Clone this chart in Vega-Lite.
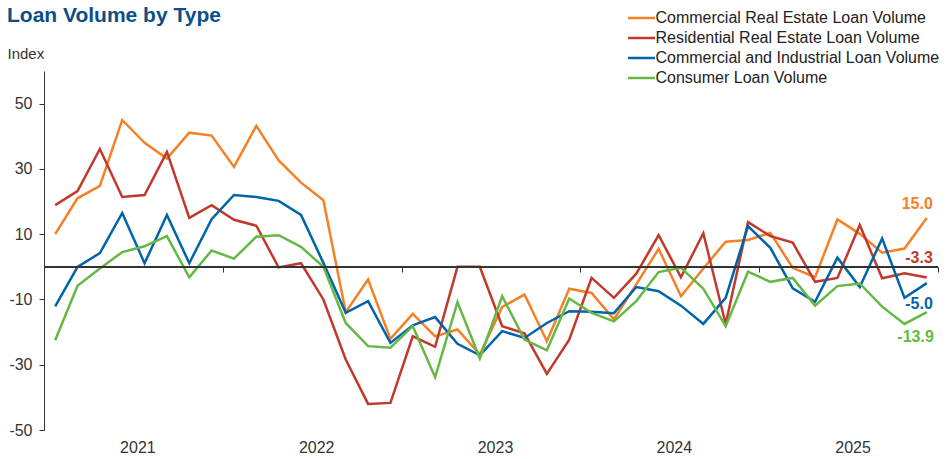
{
 "$schema": "https://vega.github.io/schema/vega-lite/v6.json",
 "width": 894,
 "height": 359,
 "autosize": {"type": "none"},
 "padding": {"left": 44, "top": 71, "right": 14, "bottom": 29},
 "background": "white",
 "title": {"text": "Loan Volume by Type", "anchor": "start", "frame": "group", "font": "Liberation Sans", "fontSize": 21, "fontWeight": "bold", "color": "#0b4f86", "dx": -37, "dy": 26, "offset": 10},
 "config": {"font": "Liberation Sans", "view": {"stroke": null}, "locale": {"number": {"decimal": ".", "thousands": ",", "grouping": [3], "currency": ["$", ""], "minus": "-"}}},
 "data": {"values": [
  {"t": 0, "CRE": 10.0, "RRE": 18.9, "CI": -12.1, "CON": -22.5},
  {"t": 1, "CRE": 21.0, "RRE": 23.2, "CI": 0.0, "CON": -5.8},
  {"t": 2, "CRE": 24.8, "RRE": 36.1, "CI": 4.2, "CON": -0.5},
  {"t": 3, "CRE": 45.0, "RRE": 21.4, "CI": 16.5, "CON": 4.5},
  {"t": 4, "CRE": 38.0, "RRE": 22.0, "CI": 1.1, "CON": 6.3},
  {"t": 5, "CRE": 33.2, "RRE": 35.2, "CI": 15.9, "CON": 9.4},
  {"t": 6, "CRE": 41.1, "RRE": 15.0, "CI": 1.1, "CON": -3.2},
  {"t": 7, "CRE": 40.2, "RRE": 18.9, "CI": 14.6, "CON": 5.0},
  {"t": 8, "CRE": 30.6, "RRE": 14.4, "CI": 22.0, "CON": 2.5},
  {"t": 9, "CRE": 43.2, "RRE": 12.6, "CI": 21.4, "CON": 9.2},
  {"t": 10, "CRE": 32.6, "RRE": -0.2, "CI": 20.2, "CON": 9.7},
  {"t": 11, "CRE": 25.8, "RRE": 1.1, "CI": 15.9, "CON": 6.1},
  {"t": 12, "CRE": 20.4, "RRE": -10.0, "CI": 1.2, "CON": 0.0},
  {"t": 13, "CRE": -13.9, "RRE": -28.4, "CI": -14.1, "CON": -17.2},
  {"t": 14, "CRE": -3.9, "RRE": -42.0, "CI": -10.5, "CON": -24.3},
  {"t": 15, "CRE": -22.1, "RRE": -41.7, "CI": -23.3, "CON": -24.8},
  {"t": 16, "CRE": -14.4, "RRE": -21.3, "CI": -17.9, "CON": -18.2},
  {"t": 17, "CRE": -21.3, "RRE": -24.5, "CI": -15.4, "CON": -33.8},
  {"t": 18, "CRE": -19.2, "RRE": 0.0, "CI": -23.6, "CON": -10.8},
  {"t": 19, "CRE": -26.9, "RRE": 0.0, "CI": -27.1, "CON": -28.1},
  {"t": 20, "CRE": -12.3, "RRE": -18.2, "CI": -19.7, "CON": -9.0},
  {"t": 21, "CRE": -8.5, "RRE": -20.4, "CI": -21.8, "CON": -22.3},
  {"t": 22, "CRE": -22.8, "RRE": -32.8, "CI": -17.2, "CON": -25.6},
  {"t": 23, "CRE": -6.7, "RRE": -22.3, "CI": -13.6, "CON": -9.7},
  {"t": 24, "CRE": -8.0, "RRE": -3.4, "CI": -13.8, "CON": -14.1},
  {"t": 25, "CRE": -16.1, "RRE": -9.5, "CI": -14.2, "CON": -16.7},
  {"t": 26, "CRE": -5.4, "RRE": -2.1, "CI": -6.2, "CON": -10.5},
  {"t": 27, "CRE": 5.5, "RRE": 9.7, "CI": -7.5, "CON": -1.6},
  {"t": 28, "CRE": -9.0, "RRE": -3.2, "CI": -11.9, "CON": -0.3},
  {"t": 29, "CRE": -0.5, "RRE": 10.3, "CI": -17.5, "CON": -6.7},
  {"t": 30, "CRE": 7.7, "RRE": -17.5, "CI": -9.5, "CON": -18.2},
  {"t": 31, "CRE": 8.2, "RRE": 13.7, "CI": 12.5, "CON": -1.5},
  {"t": 32, "CRE": 10.4, "RRE": 9.4, "CI": 5.8, "CON": -4.6},
  {"t": 33, "CRE": -0.3, "RRE": 7.4, "CI": -6.6, "CON": -3.4},
  {"t": 34, "CRE": -3.2, "RRE": -4.6, "CI": -10.7, "CON": -11.9},
  {"t": 35, "CRE": 14.5, "RRE": -3.4, "CI": 2.8, "CON": -5.9},
  {"t": 36, "CRE": 10.1, "RRE": 12.8, "CI": -6.2, "CON": -5.1},
  {"t": 37, "CRE": 4.3, "RRE": -3.5, "CI": 8.7, "CON": -12.2},
  {"t": 38, "CRE": 5.6, "RRE": -2.0, "CI": -9.5, "CON": -17.5},
  {"t": 39, "CRE": 15.0, "RRE": -3.3, "CI": -5.0, "CON": -13.9}
 ]},
 "transform": [{"fold": ["CRE", "RRE", "CI", "CON"], "as": ["series", "value"]}],
 "layer": [
  {
   "mark": {"type": "line", "strokeWidth": 2.5},
   "encoding": {
    "x": {"field": "t", "type": "quantitative", "scale": {"domain": [-0.5, 39.5], "nice": false, "zero": false},
     "axis": {"orient": "bottom", "values": [3.5, 11.5, 19.5, 27.5, 35.5], "labelExpr": "'' + (2021 + floor(datum.value / 8))", "domain": false, "ticks": false, "grid": false, "title": null, "labelFontSize": 16, "labelColor": "#333333", "labelPadding": 9, "labelOffset": 4, "labelFont": "Liberation Sans"}},
    "y": {"field": "value", "type": "quantitative", "scale": {"domain": [-50, 60], "nice": false, "zero": false},
     "axis": {"values": [-50, -30, -10, 10, 30, 50], "domain": true, "domainColor": "#333333", "ticks": true, "tickColor": "#333333", "tickSize": 5, "grid": false, "labelFontSize": 16, "labelColor": "#333333", "labelPadding": 7, "labelFont": "Liberation Sans", "title": "Index", "titleAngle": 0, "titleAlign": "left", "titleBaseline": "middle", "titleX": -37, "titleY": -18, "titleFontSize": 15, "titleFontWeight": "normal", "titleColor": "#333333", "titleFont": "Liberation Sans"}},
    "color": {"field": "series", "type": "nominal",
     "scale": {"domain": ["CRE", "RRE", "CI", "CON"], "range": ["#F58025", "#C1392B", "#0064AB", "#66B845"]},
     "legend": {"title": null, "orient": "none", "legendX": 589.5, "legendY": -61, "symbolType": "M-2.7,0H2.7", "symbolSize": 100, "symbolStrokeWidth": 2.5, "labelFontSize": 16, "labelColor": "#222222", "labelFont": "Liberation Sans", "labelOffset": 6, "labelLimit": 400, "rowPadding": 4, "padding": 0,
      "labelExpr": "datum.value == 'CRE' ? 'Commercial Real Estate Loan Volume' : datum.value == 'RRE' ? 'Residential Real Estate Loan Volume' : datum.value == 'CI' ? 'Commercial and Industrial Loan Volume' : 'Consumer Loan Volume'"}}
   }
  },
  {
   "mark": {"type": "rule", "color": "#333333", "strokeWidth": 1},
   "encoding": {
    "x": {"datum": -0.5, "axis": {"orient": "bottom", "offset": -163, "values": [7.5, 15.5, 23.5, 31.5, 39.5], "labels": false, "ticks": true, "tickSize": 5, "tickColor": "#333333", "domain": true, "domainColor": "#333333", "grid": false, "title": null}},
    "x2": {"datum": 39.5},
    "y": {"datum": 0}
   }
  },
  {
   "transform": [{"filter": "datum.t == 39 && datum.series == 'CRE'"}],
   "mark": {"type": "text", "align": "right", "baseline": "middle", "dx": 6, "dy": -14, "fontSize": 16, "fontWeight": "bold", "color": "#F58025", "font": "Liberation Sans"},
   "encoding": {"x": {"field": "t", "type": "quantitative", "axis": null}, "y": {"field": "value", "type": "quantitative"}, "text": {"field": "value", "type": "quantitative", "format": ".1f"}}
  },
  {
   "transform": [{"filter": "datum.t == 39 && datum.series == 'RRE'"}],
   "mark": {"type": "text", "align": "right", "baseline": "middle", "dx": 6, "dy": -20, "fontSize": 16, "fontWeight": "bold", "color": "#C1392B", "font": "Liberation Sans"},
   "encoding": {"x": {"field": "t", "type": "quantitative", "axis": null}, "y": {"field": "value", "type": "quantitative"}, "text": {"field": "value", "type": "quantitative", "format": ".1f"}}
  },
  {
   "transform": [{"filter": "datum.t == 39 && datum.series == 'CI'"}],
   "mark": {"type": "text", "align": "right", "baseline": "middle", "dx": 6, "dy": 21, "fontSize": 16, "fontWeight": "bold", "color": "#0064AB", "font": "Liberation Sans"},
   "encoding": {"x": {"field": "t", "type": "quantitative", "axis": null}, "y": {"field": "value", "type": "quantitative"}, "text": {"field": "value", "type": "quantitative", "format": ".1f"}}
  },
  {
   "transform": [{"filter": "datum.t == 39 && datum.series == 'CON'"}],
   "mark": {"type": "text", "align": "right", "baseline": "middle", "dx": 7, "dy": 25, "fontSize": 16, "fontWeight": "bold", "color": "#66B845", "font": "Liberation Sans"},
   "encoding": {"x": {"field": "t", "type": "quantitative", "axis": null}, "y": {"field": "value", "type": "quantitative"}, "text": {"field": "value", "type": "quantitative", "format": ".1f"}}
  }
 ],
 "resolve": {"axis": {"x": "independent"}}
}
